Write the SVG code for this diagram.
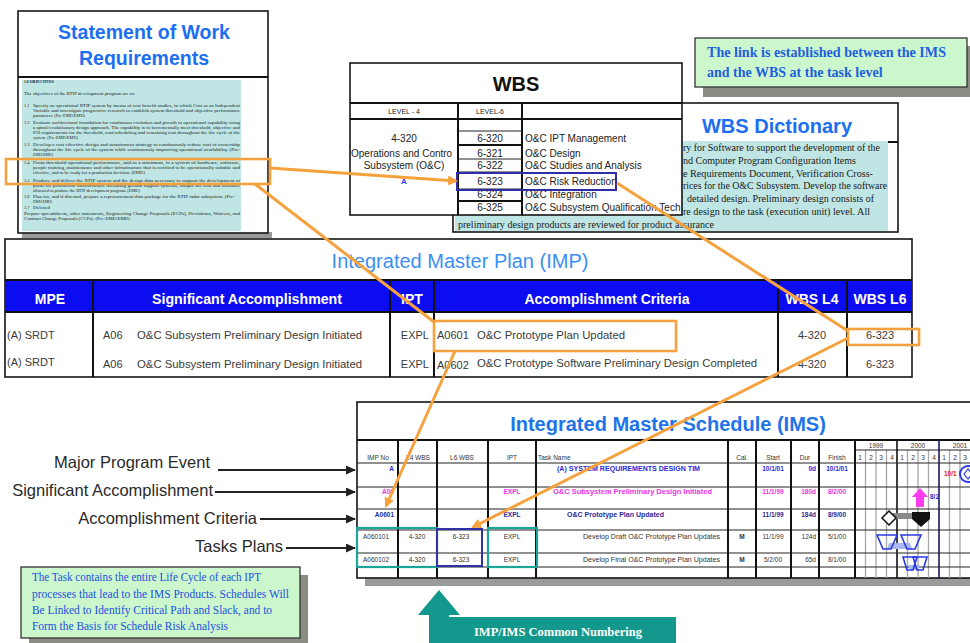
<svg xmlns="http://www.w3.org/2000/svg" width="970" height="643" viewBox="0 0 970 643">
  <style>
    .sans { font-family: "Liberation Sans", Arial, sans-serif; }
    .serif { font-family: "Liberation Serif", "Times New Roman", serif; }
    .title { font-family: "Liberation Sans", Arial, sans-serif; font-weight: bold; }
    .box { fill: #ffffff; stroke: #151515; stroke-width: 1.6; }
    .teal { fill: #bfe6e4; }
    .sow { font-family: "Liberation Serif", "Times New Roman", serif; font-size: 4.4px; fill: #1a1a1a; }
    .dict { font-family: "Liberation Serif", "Times New Roman", serif; font-size: 11px; fill: #1a1a1a; }
    .wbs { font-family: "Liberation Sans", Arial, sans-serif; font-size: 10px; fill: #222; }
    .thick { stroke: #111; stroke-width: 2; }
    .thin { stroke: #222; stroke-width: 1; }
    .hdr { font-family: "Liberation Sans", Arial, sans-serif; font-weight: bold; font-size: 14px; fill: #ffffff; text-anchor: middle; }
    .row { font-family: "Liberation Sans", Arial, sans-serif; font-size: 11px; fill: #3a3a3a; }
    .ims { font-family: "Liberation Sans", Arial, sans-serif; font-size: 6.5px; }
    .c { text-anchor: middle; }
    .e { text-anchor: end; }
    .grid { stroke: #a8a8a8; stroke-width: 1.3; }
    .hl { fill: none; stroke: #f5a23e; stroke-width: 2.6; }
    .link { fill: none; stroke: #f5a23e; stroke-width: 3; }
    .lbl { font-family: "Liberation Sans", Arial, sans-serif; font-size: 16.5px; fill: #2a2a2a; text-anchor: end; }
    .ptr { stroke: #222; stroke-width: 1.8; }
    .note { fill: #ccf7cc; stroke: #333; stroke-width: 1.3; }
    .shadow { fill: #8c8c84; }
  </style>
  <defs>
    <marker id="orangeHead" markerWidth="10" markerHeight="10" refX="8" refY="5" orient="auto" markerUnits="userSpaceOnUse">
      <path d="M0,0 L10,5 L0,10 Z" fill="#f5a23e"/>
    </marker>
    <marker id="blackHead" markerWidth="10" markerHeight="9" refX="9" refY="4.5" orient="auto" markerUnits="userSpaceOnUse">
      <path d="M0,0 L10,4.5 L0,9 Z" fill="#222"/>
    </marker>
    <clipPath id="wbsClip"><rect x="350" y="63" width="332" height="152"/></clipPath>
    <clipPath id="imsClip"><rect x="357" y="402" width="613" height="176"/></clipPath>
  </defs>

  <rect width="970" height="643" fill="#ffffff"/>

  <!-- Statement of Work -->
  <g id="sow">
    <rect x="22" y="232" width="250" height="6" fill="#9a9a9a"/>
    <rect class="box" x="18" y="11" width="250" height="222"/>
    <line class="thick" x1="18" y1="77" x2="268" y2="77"/>
    <text class="title c" x="144" y="39" font-size="19.5" fill="#1c6ff0">Statement of Work</text>
    <text class="title c" x="144" y="65" font-size="19.5" fill="#1c6ff0">Requirements</text>
    <rect class="teal" x="22" y="80" width="219" height="151"/>
    <text class="sow" x="24" y="83" font-weight="bold" textLength="30" lengthAdjust="spacingAndGlyphs">1.0 OBJECTIVES</text>
    <text class="sow" x="24" y="95" textLength="111" lengthAdjust="spacingAndGlyphs">The objectives of the RTIP development program are to:</text>
    <text class="sow" x="24" y="107">1.1</text>
    <text class="sow" x="33" y="107" textLength="207" lengthAdjust="spacingAndGlyphs">Specify an operational RTIP system by means of cost benefit studies, in which Cost as an Independent</text>
    <text class="sow" x="33" y="112" textLength="207" lengthAdjust="spacingAndGlyphs">Variable and investigate progressive research to establish system threshold and objective performance</text>
    <text class="sow" x="33" y="117" textLength="52" lengthAdjust="spacingAndGlyphs">parameters. (Pre-EMD/EMD)</text>
    <text class="sow" x="24" y="124">1.2</text>
    <text class="sow" x="33" y="124" textLength="207" lengthAdjust="spacingAndGlyphs">Evaluate architectural foundation for continuous evolution and growth in operational capability using</text>
    <text class="sow" x="33" y="129" textLength="207" lengthAdjust="spacingAndGlyphs">a spiral/evolutionary design approach.  The capability is to incrementally meet threshold, objective and</text>
    <text class="sow" x="33" y="134" textLength="207" lengthAdjust="spacingAndGlyphs">P3I requirements for the threshold, cost/scheduling and remaining cost throughout the life cycle of the</text>
    <text class="sow" x="33" y="139" textLength="45" lengthAdjust="spacingAndGlyphs">system. (Pre-EMD/EMD)</text>
    <text class="sow" x="24" y="146">1.3</text>
    <text class="sow" x="33" y="146" textLength="207" lengthAdjust="spacingAndGlyphs">Develop a cost effective design and sustainment strategy to continuously reduce cost of ownership</text>
    <text class="sow" x="33" y="151" textLength="207" lengthAdjust="spacingAndGlyphs">throughout the life cycle of the system while continuously improving operational availability. (Pre-</text>
    <text class="sow" x="33" y="156" textLength="20" lengthAdjust="spacingAndGlyphs">EMD/EMD)</text>
    <text class="sow" x="24" y="164">1.4</text>
    <text class="sow" x="33" y="164" textLength="207" lengthAdjust="spacingAndGlyphs">From threshold operational performance, and as a minimum, in a system of hardware, software,</text>
    <text class="sow" x="33" y="169" textLength="207" lengthAdjust="spacingAndGlyphs">people training, maintenance and other infrastructure that is certified to be operationally suitable and</text>
    <text class="sow" x="33" y="174" textLength="112" lengthAdjust="spacingAndGlyphs">effective, and to be ready for a production decision. (EMD)</text>
    <text class="sow" x="24" y="182">1.5</text>
    <text class="sow" x="33" y="182" textLength="207" lengthAdjust="spacingAndGlyphs">Produce and deliver the RTIP system and the design data necessary to support the development of</text>
    <text class="sow" x="33" y="187" textLength="207" lengthAdjust="spacingAndGlyphs">plans for production infrastructure including ground support systems, unique the cost and schedule</text>
    <text class="sow" x="33" y="192" textLength="107" lengthAdjust="spacingAndGlyphs">allocated to produce the RTIP development program. (EMD)</text>
    <text class="sow" x="24" y="198">1.6</text>
    <text class="sow" x="33" y="198" textLength="202" lengthAdjust="spacingAndGlyphs">Plan for, and if directed, prepare a reprocurement data package for the RTIP radar subsystem. (Pre-</text>
    <text class="sow" x="33" y="203" textLength="19" lengthAdjust="spacingAndGlyphs">EMD/EMD)</text>
    <text class="sow" x="24" y="209">1.7</text>
    <text class="sow" x="33" y="209" textLength="17" lengthAdjust="spacingAndGlyphs">Deleted</text>
    <text class="sow" x="24" y="215" textLength="216" lengthAdjust="spacingAndGlyphs">Prepare spreadsheets, other statements, Engineering Change Proposals (ECPs), Deviations, Waivers, and</text>
    <text class="sow" x="24" y="220" textLength="106" lengthAdjust="spacingAndGlyphs">Contract Change Proposals (CCPs). (Pre-EMD/EMD)</text>
  </g>

  <!-- WBS Dictionary (sits behind the WBS table) -->
  <g id="wbs-dictionary">
    <rect class="box" x="453" y="103" width="445" height="129"/>
    <rect class="teal" x="455" y="141" width="433" height="90"/>
    <line class="thick" x1="888" y1="142" x2="898" y2="142"/>
    <text class="title c" x="777" y="133" font-size="20" fill="#1c6ff0">WBS Dictionary</text>
    <text class="dict" x="683" y="151" textLength="197" lengthAdjust="spacingAndGlyphs">ry for Software to support the development of the</text>
    <text class="dict" x="683" y="164" textLength="173" lengthAdjust="spacingAndGlyphs">nd Computer Program Configuration Items</text>
    <text class="dict" x="683" y="177" textLength="190" lengthAdjust="spacingAndGlyphs">e Requirements Document, Verification Cross-</text>
    <text class="dict" x="683" y="189" textLength="204" lengthAdjust="spacingAndGlyphs">rices for the O&amp;C Subsystem.  Develop the software</text>
    <text class="dict" x="687" y="202" textLength="187" lengthAdjust="spacingAndGlyphs">detailed design.  Preliminary design consists of</text>
    <text class="dict" x="683" y="215" textLength="187" lengthAdjust="spacingAndGlyphs">re design to the task (execution unit) level.  All</text>
    <text class="dict" x="458" y="228" textLength="256" lengthAdjust="spacingAndGlyphs">preliminary design products are reviewed for product assurance</text>
  </g>

  <!-- WBS -->
  <g id="wbs">
    <rect class="box" x="350" y="63" width="332" height="152"/>
    <text class="sans c" x="516" y="91" font-size="20" font-weight="bold" fill="#111">WBS</text>
    <line class="thick" x1="350" y1="103" x2="682" y2="103"/>
    <line class="thick" x1="350" y1="119" x2="682" y2="119"/>
    <line class="thick" x1="458" y1="103" x2="458" y2="215"/>
    <line class="thick" x1="522" y1="103" x2="522" y2="215"/>
    <text class="sans c" x="404" y="114" font-size="7" fill="#222">LEVEL - 4</text>
    <text class="sans c" x="490" y="114" font-size="7" fill="#222">LEVEL-6</text>
    <line class="thin" x1="458" y1="131" x2="522" y2="131"/>
    <line class="thick" x1="458" y1="145" x2="522" y2="145"/>
    <line class="thin" x1="458" y1="159" x2="522" y2="159"/>
    <line class="thin" x1="458" y1="172" x2="522" y2="172"/>
    <line class="thin" x1="458" y1="189" x2="522" y2="189"/>
    <line class="thick" x1="458" y1="201" x2="522" y2="201"/>
    <g clip-path="url(#wbsClip)">
      <text class="wbs c" x="404" y="141.5">4-320</text>
      <text class="wbs" x="351" y="156.5">Operations and Contro</text>
      <text class="wbs c" x="404" y="168.5">Subsystem (O&amp;C)</text>
      <text class="sans c" x="404" y="184" font-size="8" font-weight="bold" fill="#2b3bd8">A</text>
      <text class="wbs c" x="490" y="141.5">6-320</text>
      <text class="wbs c" x="490" y="156.5">6-321</text>
      <text class="wbs c" x="490" y="168.5">6-322</text>
      <text class="wbs c" x="490" y="184.5">6-323</text>
      <text class="wbs c" x="490" y="197.5">6-324</text>
      <text class="wbs c" x="490" y="210.5">6-325</text>
      <text class="wbs" x="525" y="141.5">O&amp;C IPT Management</text>
      <text class="wbs" x="525" y="156.5">O&amp;C Design</text>
      <text class="wbs" x="525" y="168.5">O&amp;C Studies and Analysis</text>
      <text class="wbs" x="525" y="184.5">O&amp;C Risk Reduction</text>
      <text class="wbs" x="525" y="197.5">O&amp;C Integration</text>
      <text class="wbs" x="525" y="210.5">O&amp;C Subsystem Qualification Tech</text>
    </g>
    <rect x="457" y="173" width="159" height="17" fill="none" stroke="#2d2da8" stroke-width="2"/>
  </g>

  <!-- Note: IMS / WBS link -->
  <g id="note-link">
    <rect class="shadow" x="703" y="46" width="270" height="51"/>
    <rect class="note" x="695" y="38" width="272" height="49"/>
    <text class="serif" x="707" y="57" font-size="14" font-weight="bold" fill="#1e5fe0" textLength="239" lengthAdjust="spacingAndGlyphs">The link is established between the IMS</text>
    <text class="serif" x="707" y="77" font-size="14" font-weight="bold" fill="#1e5fe0">and the WBS at the task level</text>
  </g>

  <!-- Integrated Master Plan -->
  <g id="imp">
    <rect class="box" x="5" y="239" width="907" height="138" stroke-width="2"/>
    <text class="sans c" x="460" y="268" font-size="20" fill="#3b8ff2">Integrated Master Plan (IMP)</text>
    <rect x="5" y="280" width="907" height="32" fill="#0c0cf0"/>
    <line class="thick" x1="5" y1="280" x2="912" y2="280"/>
    <line class="thick" x1="5" y1="312" x2="912" y2="312"/>
    <line class="thick" x1="93" y1="280" x2="93" y2="377"/>
    <line class="thick" x1="390" y1="280" x2="390" y2="377"/>
    <line class="thick" x1="434" y1="280" x2="434" y2="377"/>
    <line class="thick" x1="778" y1="280" x2="778" y2="377"/>
    <line class="thick" x1="847" y1="280" x2="847" y2="377"/>
    <text class="hdr" x="50" y="304">MPE</text>
    <text class="hdr" x="247" y="304" textLength="190" lengthAdjust="spacingAndGlyphs">Significant Accomplishment</text>
    <text class="hdr" x="412" y="304">IPT</text>
    <text class="hdr" x="607" y="304" textLength="165" lengthAdjust="spacingAndGlyphs">Accomplishment Criteria</text>
    <text class="hdr" x="812" y="304">WBS L4</text>
    <text class="hdr" x="880" y="304">WBS L6</text>
    <text class="row" x="7" y="339">(A) SRDT</text>
    <text class="row" x="103" y="339">A06</text>
    <text class="row" x="137" y="339" textLength="225" lengthAdjust="spacingAndGlyphs">O&amp;C Subsystem Preliminary Design Initiated</text>
    <text class="row e" x="429" y="339">EXPL</text>
    <text class="row" x="437" y="339">A0601</text>
    <text class="row" x="477" y="339" textLength="148" lengthAdjust="spacingAndGlyphs">O&amp;C Prototype Plan Updated</text>
    <text class="row c" x="812" y="339">4-320</text>
    <text class="row c" x="880" y="339">6-323</text>
    <text class="row" x="7" y="366">(A) SRDT</text>
    <text class="row" x="103" y="368">A06</text>
    <text class="row" x="137" y="368" textLength="225" lengthAdjust="spacingAndGlyphs">O&amp;C Subsystem Preliminary Design Initiated</text>
    <text class="row e" x="429" y="368">EXPL</text>
    <text class="row" x="437" y="369">A0602</text>
    <text class="row" x="477" y="367" textLength="280" lengthAdjust="spacingAndGlyphs">O&amp;C Prototype Software Preliminary Design Completed</text>
    <text class="row c" x="812" y="368">4-320</text>
    <text class="row c" x="880" y="368">6-323</text>
  </g>

  <!-- Integrated Master Schedule -->
  <g id="ims">
    <rect x="365" y="578" width="610" height="8" fill="#9a9a9a"/>
    <rect class="box" x="357" y="402" width="620" height="176" stroke-width="2"/>
    <text class="title c" x="668" y="431" font-size="20" fill="#1e74e8">Integrated Master Schedule (IMS)</text>
    <line class="thick" x1="357" y1="440" x2="970" y2="440"/>
    <g clip-path="url(#imsClip)" fill="#333">
      <!-- timeline grid -->
      <line class="grid" x1="865.5" y1="450" x2="865.5" y2="578"/>
      <line class="grid" x1="876" y1="450" x2="876" y2="578"/>
      <line class="grid" x1="886.5" y1="450" x2="886.5" y2="578"/>
      <line class="grid" x1="907.5" y1="450" x2="907.5" y2="578"/>
      <line class="grid" x1="918" y1="450" x2="918" y2="578"/>
      <line class="grid" x1="928.5" y1="450" x2="928.5" y2="578"/>
      <line class="grid" x1="949.5" y1="450" x2="949.5" y2="578"/>
      <line class="grid" x1="960" y1="450" x2="960" y2="578"/>
      <line class="thin" x1="855" y1="450" x2="970" y2="450"/>
      <line x1="897" y1="440" x2="897" y2="578" stroke="#111" stroke-width="1.6"/>
      <line x1="939" y1="440" x2="939" y2="578" stroke="#1a1a60" stroke-width="1.6"/>
      <!-- row rules -->
      <line class="thin" x1="357" y1="463" x2="970" y2="463"/>
      <line class="thin" x1="357" y1="487" x2="970" y2="487"/>
      <line class="thin" x1="357" y1="509" x2="970" y2="509"/>
      <line class="thin" x1="357" y1="530" x2="970" y2="530"/>
      <line class="thin" x1="357" y1="553" x2="970" y2="553"/>
      <line class="thin" x1="357" y1="567" x2="970" y2="567"/>
      <!-- column rules -->
      <line class="thick" x1="398" y1="440" x2="398" y2="578" stroke-width="1.5"/>
      <line class="thick" x1="437" y1="440" x2="437" y2="578" stroke-width="1.5"/>
      <line class="thick" x1="488" y1="440" x2="488" y2="578" stroke-width="1.5"/>
      <line class="thick" x1="536" y1="440" x2="536" y2="578" stroke-width="1.5"/>
      <line class="thick" x1="728" y1="440" x2="728" y2="578" stroke-width="1.5"/>
      <line class="thick" x1="756" y1="440" x2="756" y2="578" stroke-width="1.5"/>
      <line class="thick" x1="791" y1="440" x2="791" y2="578" stroke-width="1.5"/>
      <line class="thick" x1="819" y1="440" x2="819" y2="578" stroke-width="1.5"/>
      <line class="thick" x1="855" y1="440" x2="855" y2="578" stroke-width="1.5"/>
      <!-- header -->
      <text class="ims c" x="378" y="460">IMP No</text>
      <text class="ims c" x="418" y="460">L4 WBS</text>
      <text class="ims c" x="462" y="460">L6 WBS</text>
      <text class="ims c" x="512" y="460">IPT</text>
      <text class="ims" x="538" y="460">Task Name</text>
      <text class="ims c" x="742" y="460">Cal.</text>
      <text class="ims c" x="773" y="460">Start</text>
      <text class="ims c" x="805" y="460">Dur</text>
      <text class="ims c" x="837" y="460">Finish</text>
      <text class="ims c" x="876" y="448">1999</text>
      <text class="ims c" x="918" y="448">2000</text>
      <text class="ims c" x="960" y="448">2001</text>
      <g class="ims c" font-size="6">
        <text x="860" y="460">1</text><text x="871" y="460">2</text><text x="881" y="460">3</text><text x="892" y="460">4</text>
        <text x="902" y="460">1</text><text x="913" y="460">2</text><text x="923" y="460">3</text><text x="934" y="460">4</text>
        <text x="944" y="460">1</text><text x="955" y="460">2</text><text x="965" y="460">3</text>
      </g>
      <!-- row 1: program event -->
      <g fill="#2a2ad8" font-weight="bold">
        <text class="ims e" x="394" y="471">A</text>
        <text class="ims" x="557" y="471" textLength="143" lengthAdjust="spacingAndGlyphs">(A) SYSTEM REQUIREMENTS DESIGN TIM</text>
        <text class="ims c" x="773" y="471">10/1/01</text>
        <text class="ims e" x="816" y="471">0d</text>
        <text class="ims c" x="837" y="471">10/1/01</text>
      </g>
      <text class="ims" x="944" y="476" fill="#e82020" font-weight="bold">10/1</text>
      <circle cx="968" cy="474" r="8" fill="#ffffff" stroke="#2a3ae0" stroke-width="2"/>
      <path d="M964,474 L968,469 L972,474 L968,479 Z" fill="none" stroke="#2a3ae0" stroke-width="1.2"/>
      <!-- row 2: significant accomplishment -->
      <g fill="#ee32e4" font-weight="bold">
        <text class="ims e" x="394" y="494">A06</text>
        <text class="ims c" x="512" y="494">EXPL</text>
        <text class="ims" x="553" y="494" textLength="159" lengthAdjust="spacingAndGlyphs">O&amp;C Subsystem  Preliminary Design Initiated</text>
        <text class="ims c" x="773" y="494">11/1/99</text>
        <text class="ims e" x="816" y="494">180d</text>
        <text class="ims c" x="837" y="494">8/2/00</text>
      </g>
      <path d="M920,488 L928,497 L924,497 L924,507 L916,507 L916,497 L912,497 Z" fill="#ff3cf0"/>
      <text class="ims" x="930" y="499" fill="#2a2ad8" font-weight="bold">8/2</text>
      <!-- row 3: accomplishment criteria -->
      <g fill="#2a2a9a" font-weight="bold">
        <text class="ims e" x="394" y="517">A0601</text>
        <text class="ims c" x="512" y="517">EXPL</text>
        <text class="ims" x="567" y="517" textLength="97" lengthAdjust="spacingAndGlyphs">O&amp;C Prototype  Plan Updated</text>
        <text class="ims c" x="773" y="517">11/1/99</text>
        <text class="ims e" x="816" y="517">184d</text>
        <text class="ims c" x="837" y="517">8/9/00</text>
      </g>
      <rect x="889" y="513" width="25" height="6" fill="#8a8a8a"/>
      <path d="M889,511 L896,518 L889,525 L882,518 Z" fill="#ffffff" stroke="#111" stroke-width="1.5"/>
      <path d="M912,512 L930,512 L930,519 L921,527 L912,519 Z" fill="#111"/>
      <!-- row 4: task -->
      <text class="ims c" x="376" y="539">A060101</text>
      <text class="ims c" x="417" y="539">4-320</text>
      <text class="ims c" x="461" y="539">6-323</text>
      <text class="ims c" x="512" y="539">EXPL</text>
      <text class="ims" x="583" y="539" textLength="137" lengthAdjust="spacingAndGlyphs">Develop Draft O&amp;C Prototype Plan Updates</text>
      <text class="ims c" x="742" y="539" font-weight="bold">M</text>
      <text class="ims c" x="773" y="539">11/1/99</text>
      <text class="ims e" x="816" y="539">124d</text>
      <text class="ims c" x="837" y="539">5/1/00</text>
      <path d="M889,543 L910,543 L912,549 L887,549 Z" fill="#a9b8f0"/>
      <path d="M877,535 L897,535 L891,549 L883,549 Z" fill="none" stroke="#2a3ae0" stroke-width="1.6"/>
      <path d="M901,535 L921,535 L915,549 L907,549 Z" fill="none" stroke="#2a3ae0" stroke-width="1.6"/>
      <!-- row 5: task -->
      <text class="ims c" x="376" y="562">A060102</text>
      <text class="ims c" x="417" y="562">4-320</text>
      <text class="ims c" x="461" y="562">6-323</text>
      <text class="ims c" x="512" y="562">EXPL</text>
      <text class="ims" x="583" y="562" textLength="137" lengthAdjust="spacingAndGlyphs">Develop Final O&amp;C Prototype Plan Updates</text>
      <text class="ims c" x="742" y="562" font-weight="bold">M</text>
      <text class="ims c" x="773" y="562">5/2/00</text>
      <text class="ims e" x="816" y="562">65d</text>
      <text class="ims c" x="837" y="562">8/1/00</text>
      <path d="M908,565 L920,565 L918,570 L910,570 Z" fill="#a9b8f0"/>
      <path d="M903,557 L917,557 L913,570 L907,570 Z" fill="none" stroke="#2a3ae0" stroke-width="1.6"/>
      <path d="M913,557 L927,557 L923,570 L917,570 Z" fill="none" stroke="#2a3ae0" stroke-width="1.6"/>
    </g>
    <!-- shared numbering frames -->
    <rect x="357" y="528" width="80" height="39" fill="none" stroke="#1aa598" stroke-width="2.2"/>
    <rect x="488" y="528" width="49" height="39" fill="none" stroke="#1aa598" stroke-width="2.2"/>
    <rect x="437" y="529" width="45" height="37" fill="none" stroke="#3030a8" stroke-width="2"/>
  </g>

  <!-- Row-level captions -->
  <g id="label-mpe">
    <text class="lbl" x="210" y="468">Major Program Event</text>
    <line class="ptr" x1="218" y1="470" x2="355" y2="470" marker-end="url(#blackHead)"/>
  </g>
  <g id="label-sa">
    <text class="lbl" x="213" y="496">Significant Accomplishment</text>
    <line class="ptr" x1="215" y1="492" x2="355" y2="492" marker-end="url(#blackHead)"/>
  </g>
  <g id="label-ac">
    <text class="lbl" x="257" y="524">Accomplishment Criteria</text>
    <line class="ptr" x1="260" y1="519" x2="355" y2="519" marker-end="url(#blackHead)"/>
  </g>
  <g id="label-tp">
    <text class="lbl" x="283" y="552">Tasks Plans</text>
    <line class="ptr" x1="286" y1="548" x2="355" y2="548" marker-end="url(#blackHead)"/>
  </g>

  <!-- Note: task life cycle -->
  <g id="note-task">
    <rect class="shadow" x="29" y="575" width="279" height="71"/>
    <rect class="note" x="21" y="567" width="279" height="71"/>
    <g class="serif" font-size="12.5" fill="#2050e0">
      <text x="32" y="581" textLength="229" lengthAdjust="spacingAndGlyphs">The Task contains the entire Life Cycle of each IPT</text>
      <text x="32" y="598" textLength="257" lengthAdjust="spacingAndGlyphs">processes that lead to the IMS Products.  Schedules Will</text>
      <text x="32" y="614" textLength="240" lengthAdjust="spacingAndGlyphs">Be Linked to Identify Critical Path and Slack, and to</text>
      <text x="32" y="630" textLength="196" lengthAdjust="spacingAndGlyphs">Form the Basis for Schedule Risk Analysis</text>
    </g>
  </g>

  <!-- Common numbering callout -->
  <g id="numbering-arrow">
    <path d="M439,590 L460,615 L449,615 L449,617 L676,617 L676,643 L429,643 L429,615 L418,615 Z" fill="#12988c"/>
    <text class="serif c" x="558" y="636" font-size="12.5" font-weight="bold" fill="#ffffff">IMP/IMS Common  Numbering</text>
  </g>

  <!-- Highlights and orange trace links -->
  <g id="connectors">
    <rect class="hl" x="6" y="159" width="264" height="25"/>
    <rect class="hl" x="434" y="321" width="242" height="30"/>
    <rect class="hl" x="848" y="329" width="71" height="16"/>
    <line class="link" x1="270" y1="168" x2="456" y2="181" marker-end="url(#orangeHead)"/>
    <line class="link" x1="255" y1="184" x2="434" y2="322"/>
    <line class="link" x1="617" y1="183" x2="848" y2="331"/>
    <line class="link" x1="455" y1="351" x2="386" y2="506" marker-end="url(#orangeHead)"/>
    <line class="link" x1="848" y1="338" x2="473" y2="527" marker-end="url(#orangeHead)"/>
  </g>
</svg>
